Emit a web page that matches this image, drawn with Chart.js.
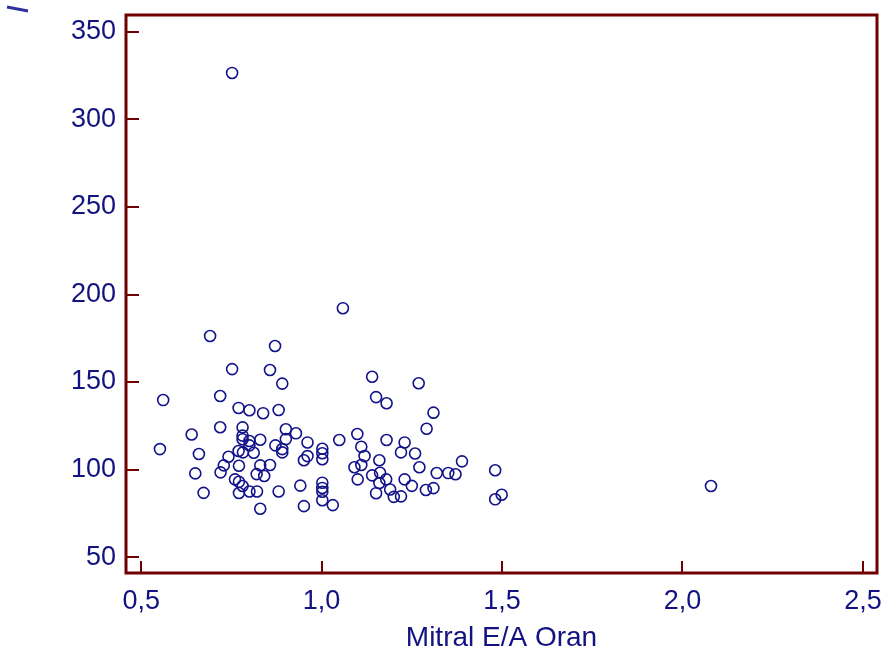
<!DOCTYPE html>
<html>
<head>
<meta charset="utf-8">
<script src="https://cdn.jsdelivr.net/npm/chart.js@4"></script>
<style>
  body { margin: 0; background: #fff; }
  #wrap { width: 887px; height: 655px; }
</style>
</head>
<body>
<div id="wrap"><canvas id="scatter" width="887" height="655"></canvas></div>
<script>
// Mitral E/A ratio values (x) and the paired y measurement
const eaRatio = [
  0.752, 1.059, 0.691, 0.871, 0.752, 0.857, 1.140, 0.891, 1.269, 0.561,
  0.719, 1.151, 1.180, 0.770, 0.800, 0.838, 0.881, 1.310, 0.719, 0.781,
  0.640, 0.781, 0.781, 0.800, 0.830, 0.901, 0.929, 0.901, 0.961, 0.872,
  0.891, 0.891, 0.800, 0.770, 0.782, 0.812, 0.742, 0.729, 0.771, 0.830,
  0.857, 0.660, 0.552, 0.650, 0.720, 0.820, 0.841, 0.760, 0.771, 0.781,
  0.771, 0.800, 0.821, 0.881, 0.941, 0.673, 0.830, 0.951, 0.961, 0.951,
  1.049, 1.099, 1.110, 1.119, 1.091, 1.110, 1.100, 1.002, 1.002, 1.002,
  1.002, 1.002, 1.002, 1.002, 1.031, 1.180, 1.230, 1.220, 1.259, 1.160,
  1.271, 1.319, 1.351, 1.371, 1.389, 1.162, 1.140, 1.179, 1.230, 1.250,
  1.190, 1.160, 1.151, 1.200, 1.220, 1.289, 1.310, 1.481, 1.481, 1.499,
  2.079, 1.291
];
const yValues = [
  326.6, 192.2, 176.3, 170.6, 157.4, 156.9, 153.0, 149.1, 149.3, 139.7,
  142.0, 141.4, 137.9, 135.2, 133.9, 132.2, 134.0, 132.5, 124.2, 124.1,
  120.0, 119.4, 117.3, 116.3, 117.0, 123.0, 120.7, 117.4, 115.5, 113.8,
  111.7, 109.8, 113.8, 110.6, 109.8, 109.6, 107.3, 102.4, 102.2, 102.4,
  102.6, 108.9, 111.7, 97.8, 98.4, 97.4, 96.3, 94.4, 93.0, 90.6,
  86.6, 87.5, 87.5, 87.5, 90.8, 86.7, 77.6, 79.1, 107.7, 105.3,
  116.9, 120.3, 113.0, 107.7, 101.3, 102.6, 94.4, 111.9, 109.3, 105.9,
  92.5, 89.5, 87.3, 82.5, 79.7, 116.9, 115.5, 109.8, 109.2, 105.3,
  101.3, 98.0, 98.0, 97.3, 104.7, 98.2, 96.7, 94.4, 94.4, 90.7,
  88.6, 92.3, 86.5, 84.4, 84.7, 88.3, 89.4, 99.6, 83.0, 85.6,
  90.6, 123.3
];
const xTicks = [0.5, 1.0, 1.5, 2.0, 2.5];
const yTicks = [50, 100, 150, 200, 250, 300, 350];
const xTitle = 'Mitral E/A Oran';

const navy = '#12128a';
const textNavy = '#121280';
const maroon = '#700000';
const fontFamily = 'Liberation Sans, Arial, sans-serif';

const points = eaRatio.map((x, i) => ({ x: x, y: yValues[i] }));

// frame + inward ticks + the little stray mark in the corner
const framePlugin = {
  id: 'frame',
  afterDraw(chart) {
    const ctx = chart.ctx;
    const a = chart.chartArea;
    const sx = chart.scales.x, sy = chart.scales.y;
    ctx.save();
    ctx.strokeStyle = maroon;
    ctx.lineWidth = 2;
    xTicks.forEach(v => {
      const px = Math.round(sx.getPixelForValue(v));
      ctx.beginPath();
      ctx.moveTo(px, a.bottom);
      ctx.lineTo(px, a.bottom - 12);
      ctx.stroke();
    });
    yTicks.forEach(v => {
      const py = Math.round(sy.getPixelForValue(v));
      ctx.beginPath();
      ctx.moveTo(a.left, py);
      ctx.lineTo(a.left + 13, py);
      ctx.stroke();
    });
    ctx.lineWidth = 3;
    ctx.strokeRect(a.left, a.top, a.right - a.left, a.bottom - a.top);

    ctx.strokeStyle = '#3030a0';
    ctx.lineWidth = 3;
    ctx.beginPath();
    ctx.moveTo(7, 7);
    ctx.lineTo(28, 11);
    ctx.stroke();
    ctx.restore();
  }
};

new Chart(document.getElementById('scatter'), {
  type: 'scatter',
  data: {
    datasets: [{
      data: points,
      pointStyle: 'circle',
      pointRadius: 5.5,
      pointBorderWidth: 1.6,
      borderColor: navy,
      backgroundColor: 'rgba(0,0,0,0)'
    }]
  },
  options: {
    responsive: false,
    animation: false,
    layout: { padding: { top: 15, right: 10, left: 0, bottom: 0 } },
    plugins: { legend: { display: false }, tooltip: { enabled: false } },
    scales: {
      x: {
        type: 'linear',
        min: 0.458,
        max: 2.539,
        afterBuildTicks: scale => { scale.ticks = xTicks.map(v => ({ value: v })); },
        afterFit: scale => {
          scale.height = 82;
          scale.paddingLeft = 0;
          scale.paddingRight = 0;
        },
        grid: { display: false, drawTicks: false },
        border: { display: false },
        ticks: {
          padding: 12,
          color: textNavy,
          font: { family: fontFamily, size: 27 },
          callback: v => v.toFixed(1).replace('.', ',')
        },
        title: {
          display: true,
          text: xTitle,
          color: textNavy,
          font: { family: fontFamily, size: 28 },
          padding: { top: 0, bottom: 0 }
        }
      },
      y: {
        type: 'linear',
        min: 40.9,
        max: 359.7,
        afterBuildTicks: scale => { scale.ticks = yTicks.map(v => ({ value: v })); },
        afterFit: scale => {
          scale.width = 126;
          scale.paddingTop = 0;
          scale.paddingBottom = 0;
        },
        grid: { display: false, drawTicks: false },
        border: { display: false },
        ticks: {
          padding: 10,
          color: textNavy,
          font: { family: fontFamily, size: 27 }
        }
      }
    }
  },
  plugins: [framePlugin]
});
</script>
</body>
</html>
